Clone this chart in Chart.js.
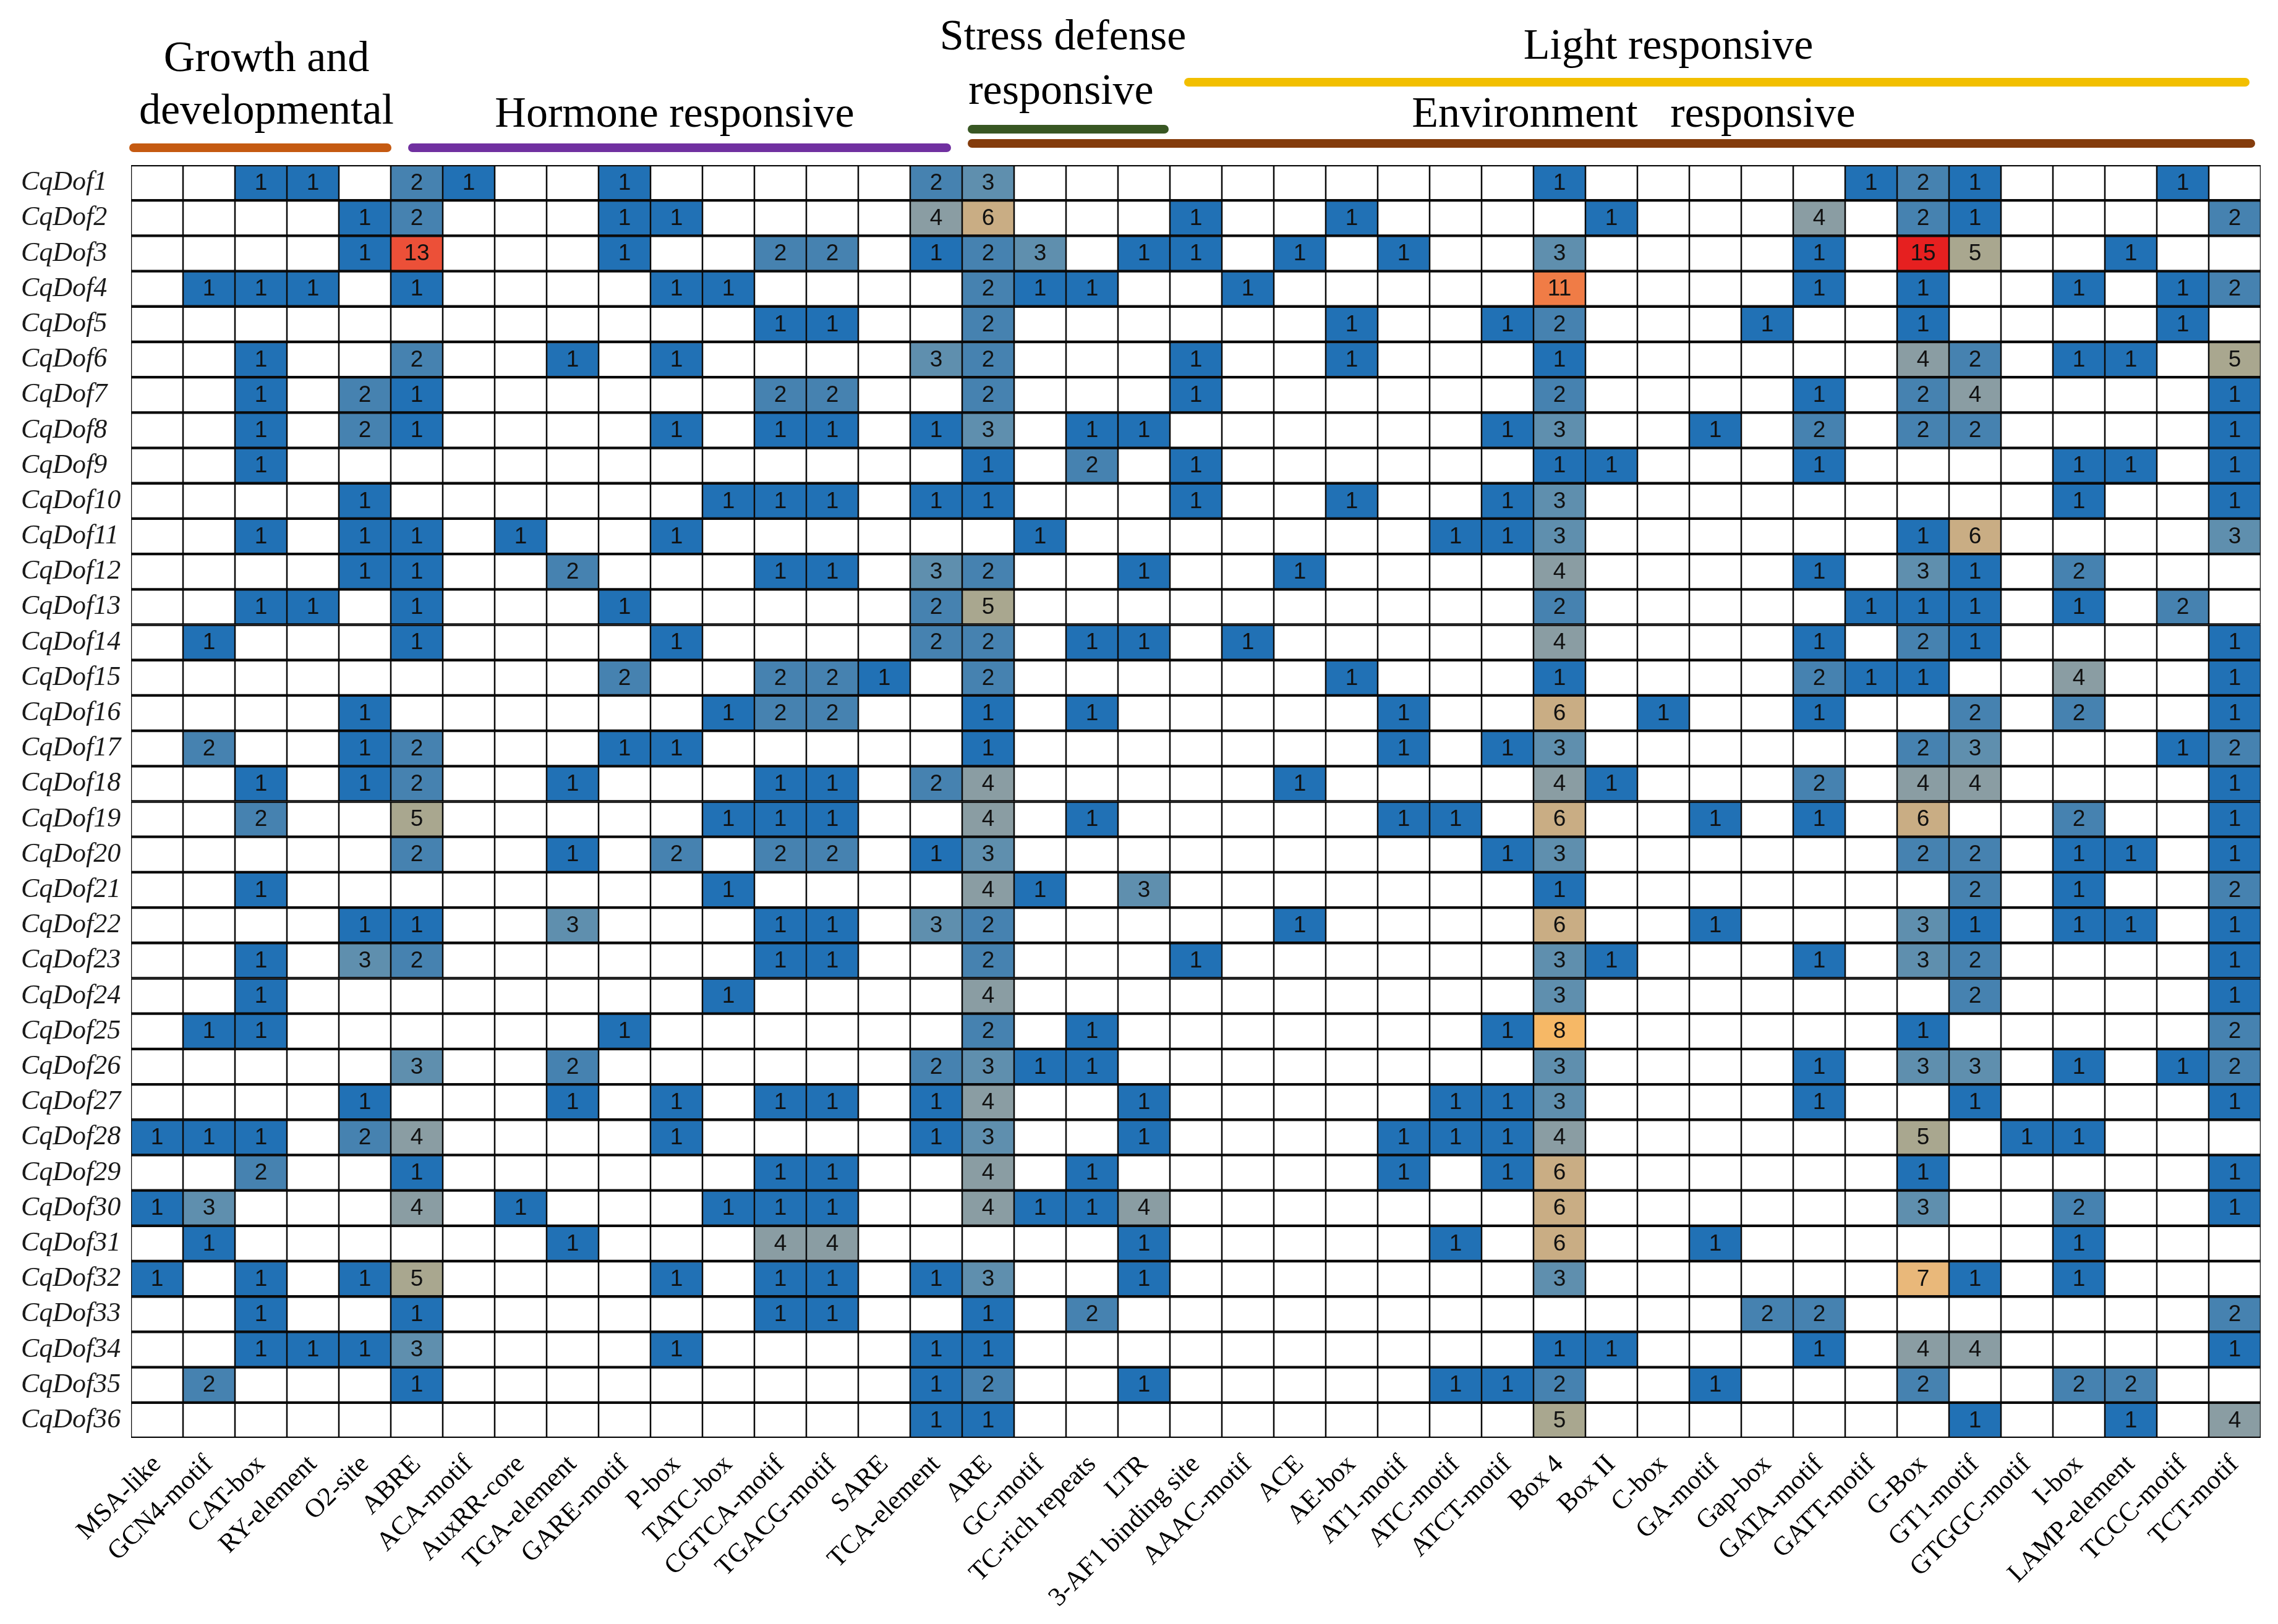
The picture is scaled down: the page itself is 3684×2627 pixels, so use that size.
<!DOCTYPE html>
<html>
<head>
<meta charset="utf-8">
<script src="https://cdn.jsdelivr.net/npm/chart.js@4.4.1/dist/chart.umd.min.js"></script>
<style>
  html, body { margin: 0; padding: 0; background: #fff; }
  canvas { display: block; }
</style>
</head>
<body>
<canvas id="heatCanvas" width="3684" height="2627"></canvas>
<script>
// cis-element names (x axis)
const motifs = ['MSA-like', 'GCN4-motif', 'CAT-box', 'RY-element', 'O2-site', 'ABRE', 'ACA-motif',
    'AuxRR-core', 'TGA-element', 'GARE-motif', 'P-box', 'TATC-box', 'CGTCA-motif', 'TGACG-motif',
    'SARE', 'TCA-element', 'ARE', 'GC-motif', 'TC-rich repeats', 'LTR', '3-AF1 binding site',
    'AAAC-motif', 'ACE', 'AE-box', 'AT1-motif', 'ATC-motif', 'ATCT-motif', 'Box 4', 'Box II',
    'C-box', 'GA-motif', 'Gap-box', 'GATA-motif', 'GATT-motif', 'G-Box', 'GT1-motif',
    'GTGGC-motif', 'I-box', 'LAMP-element', 'TCCC-motif', 'TCT-motif'];

// gene names (y axis)
const genes = ['CqDof1', 'CqDof2', 'CqDof3', 'CqDof4', 'CqDof5', 'CqDof6', 'CqDof7', 'CqDof8',
    'CqDof9', 'CqDof10', 'CqDof11', 'CqDof12', 'CqDof13', 'CqDof14', 'CqDof15', 'CqDof16',
    'CqDof17', 'CqDof18', 'CqDof19', 'CqDof20', 'CqDof21', 'CqDof22', 'CqDof23', 'CqDof24',
    'CqDof25', 'CqDof26', 'CqDof27', 'CqDof28', 'CqDof29', 'CqDof30', 'CqDof31', 'CqDof32',
    'CqDof33', 'CqDof34', 'CqDof35', 'CqDof36'];

// number of each element per gene, one line per gene, 41 columns
const counts = [
    [0,0,1,1,0,2,1,0,0,1, 0,0,0,0,0,2,3,0,0,0, 0,0,0,0,0,0,0,1,0,0, 0,0,0,1,2,1,0,0,0,1,0], // 1
    [0,0,0,0,1,2,0,0,0,1, 1,0,0,0,0,4,6,0,0,0, 1,0,0,1,0,0,0,0,1,0, 0,0,4,0,2,1,0,0,0,0,2], // 2
    [0,0,0,0,1,13,0,0,0,1, 0,0,2,2,0,1,2,3,0,1, 1,0,1,0,1,0,0,3,0,0, 0,0,1,0,15,5,0,0,1,0,0], // 3
    [0,1,1,1,0,1,0,0,0,0, 1,1,0,0,0,0,2,1,1,0, 0,1,0,0,0,0,0,11,0,0, 0,0,1,0,1,0,0,1,0,1,2], // 4
    [0,0,0,0,0,0,0,0,0,0, 0,0,1,1,0,0,2,0,0,0, 0,0,0,1,0,0,1,2,0,0, 0,1,0,0,1,0,0,0,0,1,0], // 5
    [0,0,1,0,0,2,0,0,1,0, 1,0,0,0,0,3,2,0,0,0, 1,0,0,1,0,0,0,1,0,0, 0,0,0,0,4,2,0,1,1,0,5], // 6
    [0,0,1,0,2,1,0,0,0,0, 0,0,2,2,0,0,2,0,0,0, 1,0,0,0,0,0,0,2,0,0, 0,0,1,0,2,4,0,0,0,0,1], // 7
    [0,0,1,0,2,1,0,0,0,0, 1,0,1,1,0,1,3,0,1,1, 0,0,0,0,0,0,1,3,0,0, 1,0,2,0,2,2,0,0,0,0,1], // 8
    [0,0,1,0,0,0,0,0,0,0, 0,0,0,0,0,0,1,0,2,0, 1,0,0,0,0,0,0,1,1,0, 0,0,1,0,0,0,0,1,1,0,1], // 9
    [0,0,0,0,1,0,0,0,0,0, 0,1,1,1,0,1,1,0,0,0, 1,0,0,1,0,0,1,3,0,0, 0,0,0,0,0,0,0,1,0,0,1], // 10
    [0,0,1,0,1,1,0,1,0,0, 1,0,0,0,0,0,0,1,0,0, 0,0,0,0,0,1,1,3,0,0, 0,0,0,0,1,6,0,0,0,0,3], // 11
    [0,0,0,0,1,1,0,0,2,0, 0,0,1,1,0,3,2,0,0,1, 0,0,1,0,0,0,0,4,0,0, 0,0,1,0,3,1,0,2,0,0,0], // 12
    [0,0,1,1,0,1,0,0,0,1, 0,0,0,0,0,2,5,0,0,0, 0,0,0,0,0,0,0,2,0,0, 0,0,0,1,1,1,0,1,0,2,0], // 13
    [0,1,0,0,0,1,0,0,0,0, 1,0,0,0,0,2,2,0,1,1, 0,1,0,0,0,0,0,4,0,0, 0,0,1,0,2,1,0,0,0,0,1], // 14
    [0,0,0,0,0,0,0,0,0,2, 0,0,2,2,1,0,2,0,0,0, 0,0,0,1,0,0,0,1,0,0, 0,0,2,1,1,0,0,4,0,0,1], // 15
    [0,0,0,0,1,0,0,0,0,0, 0,1,2,2,0,0,1,0,1,0, 0,0,0,0,1,0,0,6,0,1, 0,0,1,0,0,2,0,2,0,0,1], // 16
    [0,2,0,0,1,2,0,0,0,1, 1,0,0,0,0,0,1,0,0,0, 0,0,0,0,1,0,1,3,0,0, 0,0,0,0,2,3,0,0,0,1,2], // 17
    [0,0,1,0,1,2,0,0,1,0, 0,0,1,1,0,2,4,0,0,0, 0,0,1,0,0,0,0,4,1,0, 0,0,2,0,4,4,0,0,0,0,1], // 18
    [0,0,2,0,0,5,0,0,0,0, 0,1,1,1,0,0,4,0,1,0, 0,0,0,0,1,1,0,6,0,0, 1,0,1,0,6,0,0,2,0,0,1], // 19
    [0,0,0,0,0,2,0,0,1,0, 2,0,2,2,0,1,3,0,0,0, 0,0,0,0,0,0,1,3,0,0, 0,0,0,0,2,2,0,1,1,0,1], // 20
    [0,0,1,0,0,0,0,0,0,0, 0,1,0,0,0,0,4,1,0,3, 0,0,0,0,0,0,0,1,0,0, 0,0,0,0,0,2,0,1,0,0,2], // 21
    [0,0,0,0,1,1,0,0,3,0, 0,0,1,1,0,3,2,0,0,0, 0,0,1,0,0,0,0,6,0,0, 1,0,0,0,3,1,0,1,1,0,1], // 22
    [0,0,1,0,3,2,0,0,0,0, 0,0,1,1,0,0,2,0,0,0, 1,0,0,0,0,0,0,3,1,0, 0,0,1,0,3,2,0,0,0,0,1], // 23
    [0,0,1,0,0,0,0,0,0,0, 0,1,0,0,0,0,4,0,0,0, 0,0,0,0,0,0,0,3,0,0, 0,0,0,0,0,2,0,0,0,0,1], // 24
    [0,1,1,0,0,0,0,0,0,1, 0,0,0,0,0,0,2,0,1,0, 0,0,0,0,0,0,1,8,0,0, 0,0,0,0,1,0,0,0,0,0,2], // 25
    [0,0,0,0,0,3,0,0,2,0, 0,0,0,0,0,2,3,1,1,0, 0,0,0,0,0,0,0,3,0,0, 0,0,1,0,3,3,0,1,0,1,2], // 26
    [0,0,0,0,1,0,0,0,1,0, 1,0,1,1,0,1,4,0,0,1, 0,0,0,0,0,1,1,3,0,0, 0,0,1,0,0,1,0,0,0,0,1], // 27
    [1,1,1,0,2,4,0,0,0,0, 1,0,0,0,0,1,3,0,0,1, 0,0,0,0,1,1,1,4,0,0, 0,0,0,0,5,0,1,1,0,0,0], // 28
    [0,0,2,0,0,1,0,0,0,0, 0,0,1,1,0,0,4,0,1,0, 0,0,0,0,1,0,1,6,0,0, 0,0,0,0,1,0,0,0,0,0,1], // 29
    [1,3,0,0,0,4,0,1,0,0, 0,1,1,1,0,0,4,1,1,4, 0,0,0,0,0,0,0,6,0,0, 0,0,0,0,3,0,0,2,0,0,1], // 30
    [0,1,0,0,0,0,0,0,1,0, 0,0,4,4,0,0,0,0,0,1, 0,0,0,0,0,1,0,6,0,0, 1,0,0,0,0,0,0,1,0,0,0], // 31
    [1,0,1,0,1,5,0,0,0,0, 1,0,1,1,0,1,3,0,0,1, 0,0,0,0,0,0,0,3,0,0, 0,0,0,0,7,1,0,1,0,0,0], // 32
    [0,0,1,0,0,1,0,0,0,0, 0,0,1,1,0,0,1,0,2,0, 0,0,0,0,0,0,0,0,0,0, 0,2,2,0,0,0,0,0,0,0,2], // 33
    [0,0,1,1,1,3,0,0,0,0, 1,0,0,0,0,1,1,0,0,0, 0,0,0,0,0,0,0,1,1,0, 0,0,1,0,4,4,0,0,0,0,1], // 34
    [0,2,0,0,0,1,0,0,0,0, 0,0,0,0,0,1,2,0,0,1, 0,0,0,0,0,1,1,2,0,0, 1,0,0,0,2,0,0,2,2,0,0], // 35
    [0,0,0,0,0,0,0,0,0,0, 0,0,0,0,0,1,1,0,0,0, 0,0,0,0,0,0,0,5,0,0, 0,0,0,0,0,1,0,0,1,0,4]  // 36
];

// functional groups: first and last column index
const groupNames = [['Growth and', 'developmental'], ['Hormone responsive'], ['Stress defense', 'responsive'],
    ['Environment   responsive'], ['Light responsive']];
const groupFrom = [0, 5, 16, 16, 20];
const groupTo = [4, 15, 19, 40, 40];

// look of the group bars and titles
const groupStyle = [
    { color: '#c55a11', y: 239, padL: 4, padR: 6, text: [[431, 97], [431, 182]] },
    { color: '#7030a0', y: 239, padL: 35, padR: 25, text: [[1091, 187]] },
    { color: '#385723', y: 209, padL: 16, padR: 9, text: [[1719, 62], [1716, 150]] },
    { color: '#843c0c', y: 232, padL: 16, padR: 16, text: [[2642, 187]] },
    { color: '#f2bf00', y: 133, padL: 30, padR: 25, text: [[2698, 77]] }
];

const palette = {
    1: '#2171b5', 2: '#4682b0', 3: '#5f8fae', 4: '#8a9da3', 5: '#a9a78f', 6: '#c9ad84',
    7: '#e9b87a', 8: '#f6b866', 11: '#f07c46', 13: '#ec5038', 15: '#e62020'
};

function cellColor(v) {
    if (!v) return '#ffffff';
    return palette[v] || '#c0a080';
}

// one floating bar row per gene
const datasets = genes.map(function (g, r) {
    return {
        label: g,
        data: motifs.map(function () { return [r, r + 1]; }),
        backgroundColor: counts[r].map(cellColor),
        borderColor: '#0a0a0a',
        borderWidth: { top: 2.5, bottom: 2.5, left: 1.6, right: 1.6 },
        borderSkipped: false,
        grouped: false,
        barPercentage: 1,
        categoryPercentage: 1
    };
});

// numbers inside the cells
const cellText = {
    id: 'cellText',
    afterDatasetsDraw(chart) {
        const ctx = chart.ctx;
        ctx.save();
        ctx.font = '37px "Liberation Sans", Arial, sans-serif';
        ctx.fillStyle = '#111';
        ctx.textAlign = 'center';
        ctx.textBaseline = 'middle';
        chart.data.datasets.forEach(function (ds, r) {
            chart.getDatasetMeta(r).data.forEach(function (bar, c) {
                const v = counts[r][c];
                if (!v) return;
                const p = bar.getProps(['x', 'y', 'base'], true);
                ctx.fillText(String(v), p.x, (p.y + p.base) / 2 + 1);
            });
        });
        ctx.restore();
    }
};

// group bars and titles above the grid
const groupHeader = {
    id: 'groupHeader',
    afterDraw(chart) {
        const ctx = chart.ctx;
        const x = chart.scales.x;
        const cw = (chart.chartArea.right - chart.chartArea.left) / motifs.length;
        ctx.save();
        groupNames.forEach(function (lines, i) {
            const st = groupStyle[i];
            const x0 = x.getPixelForValue(groupFrom[i]) - cw / 2 + st.padL;
            const x1 = x.getPixelForValue(groupTo[i]) + cw / 2 - st.padR;
            ctx.strokeStyle = st.color;
            ctx.lineWidth = 14;
            ctx.lineCap = 'round';
            ctx.beginPath();
            ctx.moveTo(x0, st.y);
            ctx.lineTo(x1, st.y);
            ctx.stroke();

            ctx.fillStyle = '#000';
            ctx.font = '70px "Liberation Serif", "Times New Roman", serif';
            ctx.textAlign = 'center';
            ctx.textBaseline = 'middle';
            lines.forEach(function (t, k) {
                ctx.fillText(t, st.text[k][0], st.text[k][1]);
            });
        });
        ctx.restore();
    }
};

const ctx = document.getElementById('heatCanvas').getContext('2d');
const heatChart = new Chart(ctx, {
    type: 'bar',
    data: { labels: motifs, datasets: datasets },
    options: {
        responsive: false,
        devicePixelRatio: 1,
        animation: false,
        layout: { padding: { top: 267, right: 28, bottom: 0, left: 34 } },
        plugins: { legend: { display: false }, tooltip: { enabled: false } },
        scales: {
            x: {
                type: 'category',
                offset: true,
                grid: { display: false },
                border: { display: false },
                ticks: {
                    autoSkip: false,
                    minRotation: 45,
                    maxRotation: 45,
                    padding: 10,
                    color: '#000',
                    font: { family: '"Liberation Serif", "Times New Roman", serif', size: 43 }
                },
                afterFit: function (s) { s.height = 301; }
            },
            y: {
                type: 'linear',
                min: 0,
                max: genes.length,
                reverse: true,
                grid: { display: false },
                border: { display: false },
                afterBuildTicks: function (s) {
                    s.ticks = genes.map(function (g, i) { return { value: i + 0.5 }; });
                },
                afterFit: function (s) { s.width = 178; },
                ticks: {
                    autoSkip: false,
                    crossAlign: 'far',
                    color: '#1a1a1a',
                    font: { family: '"Liberation Serif", "Times New Roman", serif', size: 44, style: 'italic' },
                    callback: function (v, i) { return genes[i]; }
                }
            }
        }
    },
    plugins: [cellText, groupHeader]
});
</script>
</body>
</html>
